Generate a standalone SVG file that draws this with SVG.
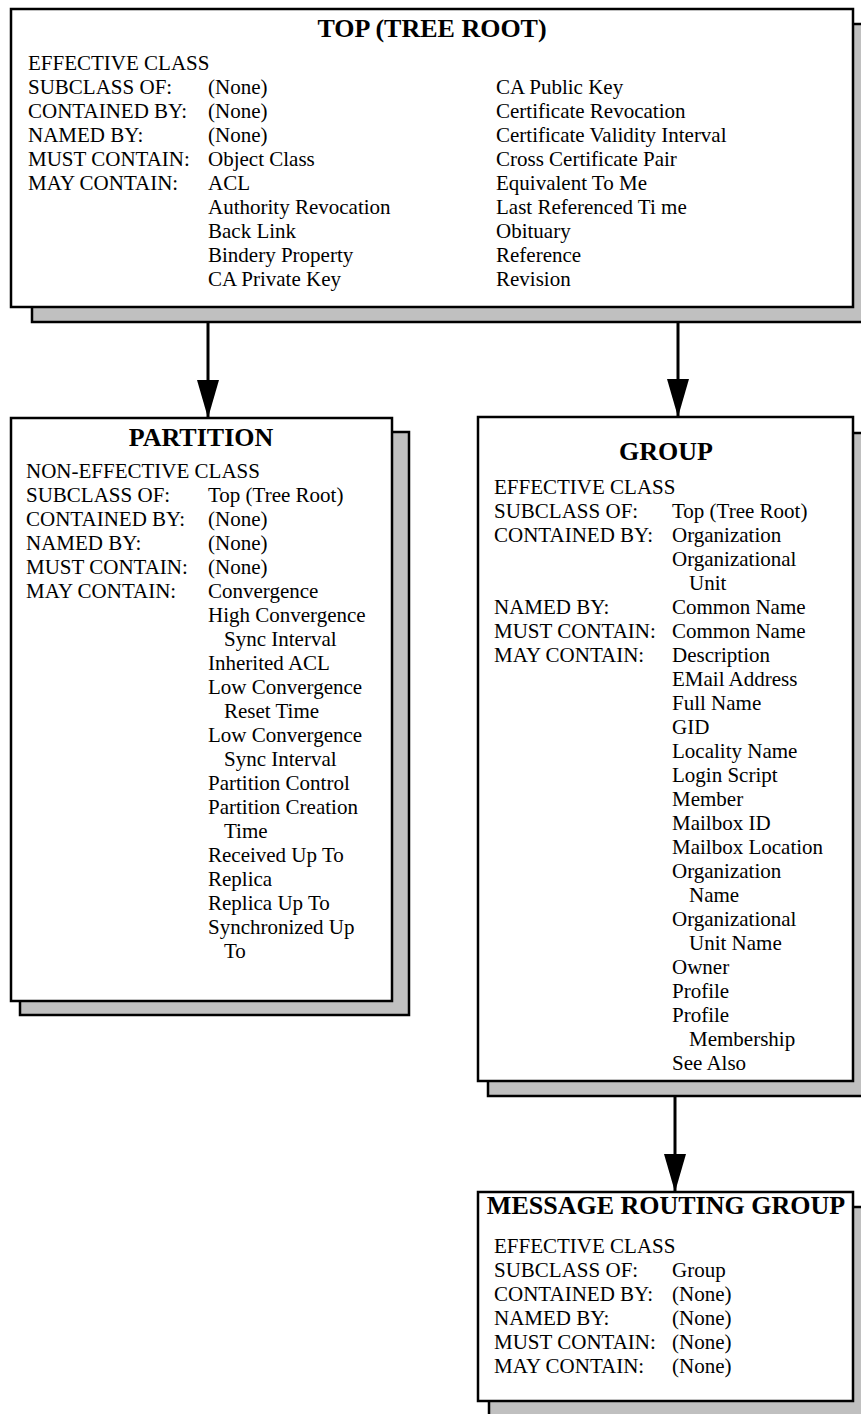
<svg xmlns="http://www.w3.org/2000/svg" width="861" height="1414" viewBox="0 0 861 1414">
<defs>
<style>
.box{fill:#fff;stroke:#000;stroke-width:2.5}
.shadow{fill:#c0c0c0;stroke:#000;stroke-width:2.5}
.t{font-family:"Liberation Serif","Times New Roman",serif;font-size:21px;fill:#000}
.h{font-family:"Liberation Serif","Times New Roman",serif;font-size:26px;font-weight:bold;fill:#000;text-anchor:middle}
.conn{stroke:#000;stroke-width:3;fill:none}
</style>
<marker id="arr" markerWidth="38" markerHeight="22" refX="38" refY="11" orient="auto" markerUnits="userSpaceOnUse" viewBox="0 0 38 22">
<path d="M0,0 L38,11 L0,22 Z" fill="#000"/>
</marker>
</defs>
<g id="connectors">
<line class="conn" x1="208" y1="322" x2="208" y2="418" marker-end="url(#arr)"/>
<line class="conn" x1="678" y1="322" x2="678" y2="417" marker-end="url(#arr)"/>
<line class="conn" x1="675" y1="1096" x2="675" y2="1192" marker-end="url(#arr)"/>
</g>
<g id="top">
<rect class="shadow" x="32" y="24" width="840" height="298"/>
<rect class="box" x="11" y="9" width="842" height="298"/>
<text class="h" x="432" y="37">TOP (TREE ROOT)</text>
<text class="t" x="28" y="70">EFFECTIVE CLASS</text>
<text class="t" x="28" y="94">SUBCLASS OF:</text>
<text class="t" x="28" y="118">CONTAINED BY:</text>
<text class="t" x="28" y="142">NAMED BY:</text>
<text class="t" x="28" y="166">MUST CONTAIN:</text>
<text class="t" x="28" y="190">MAY CONTAIN:</text>
<text class="t" x="208" y="94">(None)</text>
<text class="t" x="208" y="118">(None)</text>
<text class="t" x="208" y="142">(None)</text>
<text class="t" x="208" y="166">Object Class</text>
<text class="t" x="208" y="190">ACL</text>
<text class="t" x="208" y="214">Authority Revocation</text>
<text class="t" x="208" y="238">Back Link</text>
<text class="t" x="208" y="262">Bindery Property</text>
<text class="t" x="208" y="286">CA Private Key</text>
<text class="t" x="496" y="94">CA Public Key</text>
<text class="t" x="496" y="118">Certificate Revocation</text>
<text class="t" x="496" y="142">Certificate Validity Interval</text>
<text class="t" x="496" y="166">Cross Certificate Pair</text>
<text class="t" x="496" y="190">Equivalent To Me</text>
<text class="t" x="496" y="214">Last Referenced Ti me</text>
<text class="t" x="496" y="238">Obituary</text>
<text class="t" x="496" y="262">Reference</text>
<text class="t" x="496" y="286">Revision</text>
</g>
<g id="partition">
<rect class="shadow" x="20" y="432" width="389" height="583"/>
<rect class="box" x="11" y="418" width="381" height="583"/>
<text class="h" x="201" y="446">PARTITION</text>
<text class="t" x="26" y="478">NON-EFFECTIVE CLASS</text>
<text class="t" x="26" y="502">SUBCLASS OF:</text>
<text class="t" x="26" y="526">CONTAINED BY:</text>
<text class="t" x="26" y="550">NAMED BY:</text>
<text class="t" x="26" y="574">MUST CONTAIN:</text>
<text class="t" x="26" y="598">MAY CONTAIN:</text>
<text class="t" x="208" y="502">Top (Tree Root)</text>
<text class="t" x="208" y="526">(None)</text>
<text class="t" x="208" y="550">(None)</text>
<text class="t" x="208" y="574">(None)</text>
<text class="t" x="208" y="598">Convergence</text>
<text class="t" x="208" y="622">High Convergence</text>
<text class="t" x="224" y="646">Sync Interval</text>
<text class="t" x="208" y="670">Inherited ACL</text>
<text class="t" x="208" y="694">Low Convergence</text>
<text class="t" x="224" y="718">Reset Time</text>
<text class="t" x="208" y="742">Low Convergence</text>
<text class="t" x="224" y="766">Sync Interval</text>
<text class="t" x="208" y="790">Partition Control</text>
<text class="t" x="208" y="814">Partition Creation</text>
<text class="t" x="224" y="838">Time</text>
<text class="t" x="208" y="862">Received Up To</text>
<text class="t" x="208" y="886">Replica</text>
<text class="t" x="208" y="910">Replica Up To</text>
<text class="t" x="208" y="934">Synchronized Up</text>
<text class="t" x="224" y="958">To</text>
</g>
<g id="group">
<rect class="shadow" x="488" y="433" width="384" height="663"/>
<rect class="box" x="478" y="417" width="375" height="664"/>
<text class="h" x="666" y="460">GROUP</text>
<text class="t" x="494" y="494">EFFECTIVE CLASS</text>
<text class="t" x="494" y="518">SUBCLASS OF:</text>
<text class="t" x="494" y="542">CONTAINED BY:</text>
<text class="t" x="494" y="614">NAMED BY:</text>
<text class="t" x="494" y="638">MUST CONTAIN:</text>
<text class="t" x="494" y="662">MAY CONTAIN:</text>
<text class="t" x="672" y="518">Top (Tree Root)</text>
<text class="t" x="672" y="542">Organization</text>
<text class="t" x="672" y="566">Organizational</text>
<text class="t" x="689" y="590">Unit</text>
<text class="t" x="672" y="614">Common Name</text>
<text class="t" x="672" y="638">Common Name</text>
<text class="t" x="672" y="662">Description</text>
<text class="t" x="672" y="686">EMail Address</text>
<text class="t" x="672" y="710">Full Name</text>
<text class="t" x="672" y="734">GID</text>
<text class="t" x="672" y="758">Locality Name</text>
<text class="t" x="672" y="782">Login Script</text>
<text class="t" x="672" y="806">Member</text>
<text class="t" x="672" y="830">Mailbox ID</text>
<text class="t" x="672" y="854">Mailbox Location</text>
<text class="t" x="672" y="878">Organization</text>
<text class="t" x="689" y="902">Name</text>
<text class="t" x="672" y="926">Organizational</text>
<text class="t" x="689" y="950">Unit Name</text>
<text class="t" x="672" y="974">Owner</text>
<text class="t" x="672" y="998">Profile</text>
<text class="t" x="672" y="1022">Profile</text>
<text class="t" x="689" y="1046">Membership</text>
<text class="t" x="672" y="1070">See Also</text>
</g>
<g id="message-routing-group">
<rect class="shadow" x="489" y="1207" width="384" height="220"/>
<rect class="box" x="478" y="1192" width="375" height="209"/>
<text class="h" x="666" y="1214">MESSAGE ROUTING GROUP</text>
<text class="t" x="494" y="1253">EFFECTIVE CLASS</text>
<text class="t" x="494" y="1277">SUBCLASS OF:</text>
<text class="t" x="494" y="1301">CONTAINED BY:</text>
<text class="t" x="494" y="1325">NAMED BY:</text>
<text class="t" x="494" y="1349">MUST CONTAIN:</text>
<text class="t" x="494" y="1373">MAY CONTAIN:</text>
<text class="t" x="672" y="1277">Group</text>
<text class="t" x="672" y="1301">(None)</text>
<text class="t" x="672" y="1325">(None)</text>
<text class="t" x="672" y="1349">(None)</text>
<text class="t" x="672" y="1373">(None)</text>
</g>
</svg>
